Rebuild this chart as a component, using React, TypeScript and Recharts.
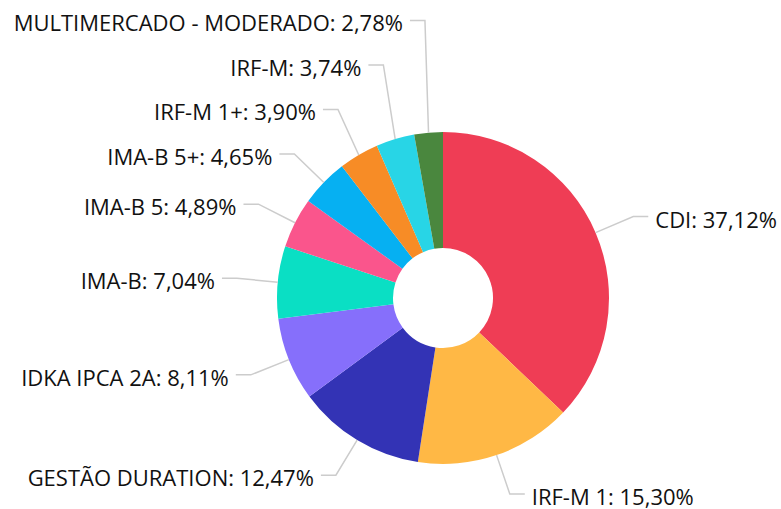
import React from 'react';
import { PieChart, Pie, Cell } from 'recharts';

const categories = [
  'CDI',
  'IRF-M 1',
  'GESTÃO DURATION',
  'IDKA IPCA 2A',
  'IMA-B',
  'IMA-B 5',
  'IMA-B 5+',
  'IRF-M 1+',
  'IRF-M',
  'MULTIMERCADO - MODERADO',
];
const values = [37.12, 15.3, 12.47, 8.11, 7.04, 4.89, 4.65, 3.9, 3.74, 2.78];
const colors = [
  '#EF3D55',
  '#FFB845',
  '#3333B5',
  '#866FFB',
  '#0ADFC4',
  '#FA558C',
  '#06B0F2',
  '#F78C26',
  '#28D5E6',
  '#4A873E',
];

const data = categories.map((name, i) => ({ name, value: values[i] }));

const fmt = (v: number) => v.toFixed(2).replace('.', ',') + '%';

type LI = { sx: number; sy: number; ex: number; ey: number; right: boolean };

function computeLayout(cx: number, cy: number, r: number): LI[] {
  const total = values.reduce((a, b) => a + b, 0);
  const R2 = r + 41;
  const gap = 44.5;
  let acc = 0;
  const items: LI[] = values.map((v) => {
    const th = ((acc + v / 2) / total) * Math.PI * 2;
    acc += v;
    const s = Math.sin(th);
    const c = Math.cos(th);
    return {
      sx: cx + r * s,
      sy: cy - r * c,
      ex: cx + R2 * s,
      ey: cy - R2 * c,
      right: s >= 0,
    };
  });
  [true, false].forEach((side) => {
    const idx = items
      .map((it, i) => ({ it, i }))
      .filter((o) => o.it.right === side)
      .sort((a, b) => a.it.ey - b.it.ey);
    for (let k = idx.length - 2; k >= 0; k--) {
      const lim = idx[k + 1].it.ey - gap;
      if (idx[k].it.ey > lim) idx[k].it.ey = lim;
    }
  });
  return items;
}

let cache: { key: string; items: LI[] } | null = null;

const renderLabel = (props: any) => {
  const { cx, cy, outerRadius, name } = props;
  let index: number = props.index;
  if (typeof index !== 'number') index = categories.indexOf(name);
  const key = `${cx}-${cy}-${outerRadius}`;
  if (!cache || cache.key !== key) cache = { key, items: computeLayout(cx, cy, outerRadius) };
  const it = cache.items[index];
  const dir = it.right ? 1 : -1;
  const hx = it.ex + dir * 15;
  return (
    <g key={`lbl-${index}`}>
      <polyline
        points={`${it.sx},${it.sy} ${it.ex},${it.ey} ${hx},${it.ey}`}
        fill="none"
        stroke="#cccccc"
        strokeWidth={1.5}
      />
      <text
        x={hx + dir * 7}
        y={it.ey + 2}
        textAnchor={it.right ? 'start' : 'end'}
        dominantBaseline="central"
        fontFamily="'Open Sans', sans-serif"
        fontSize={22}
        fill="#111111"
      >
        {`${categories[index]}: ${fmt(values[index])}`}
      </text>
    </g>
  );
};

export default function App() {
  return (
    <div style={{ position: 'fixed', left: 0, top: 0, width: 781, height: 509, background: '#fff' }}>
      <PieChart width={781} height={509} margin={{ top: 0, right: 0, bottom: 0, left: 0 }}>
        <Pie
          data={data}
          dataKey="value"
          nameKey="name"
          cx={443}
          cy={298}
          innerRadius={50}
          outerRadius={166}
          startAngle={90}
          endAngle={-270}
          stroke="none"
          isAnimationActive={false}
          labelLine={false}
          label={renderLabel}
        >
          {data.map((d, i) => (
            <Cell key={d.name} fill={colors[i]} />
          ))}
        </Pie>
      </PieChart>
    </div>
  );
}
